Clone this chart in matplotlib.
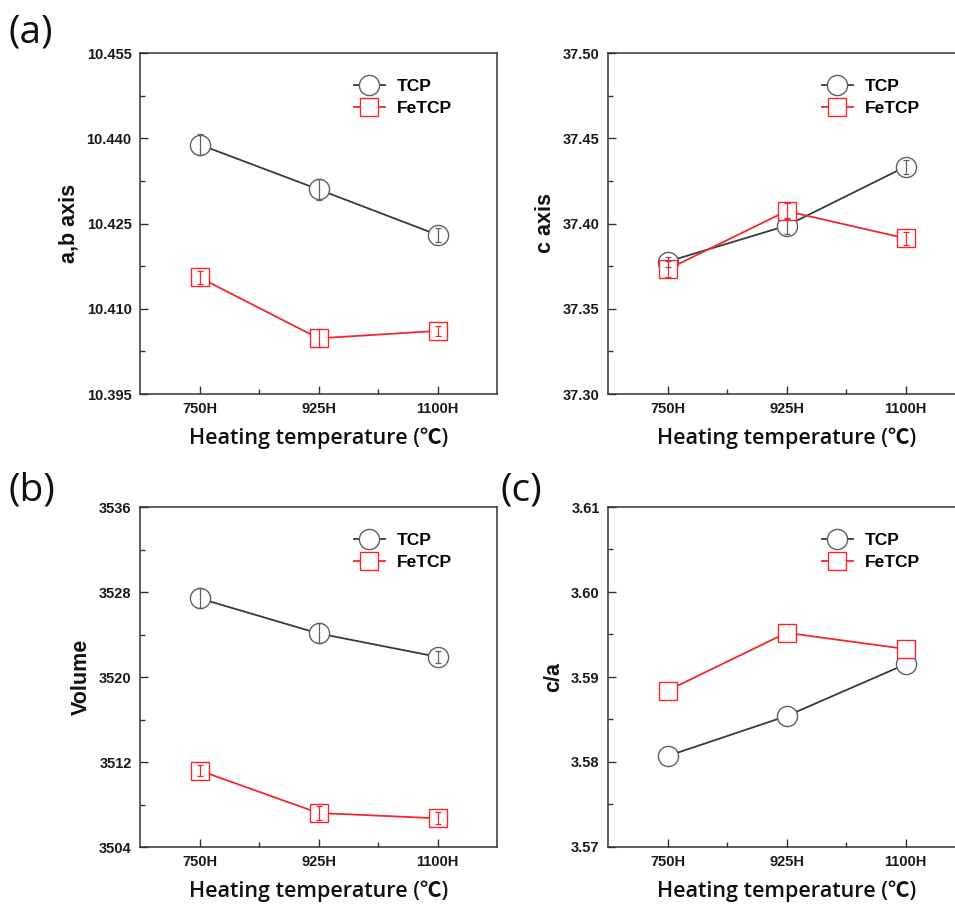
import matplotlib
matplotlib.use("Agg")
import matplotlib.pyplot as plt
from matplotlib.ticker import MultipleLocator, FixedLocator
import numpy as np

# ---------------- data ----------------
categories = ["750H", "925H", "1100H"]
series_names = ["TCP", "FeTCP"]

ab_tcp = [10.4389, 10.4310, 10.4230]
ab_fetcp = [10.4155, 10.4048, 10.4061]
ab_tcp_err = [0.0018, 0.0018, 0.0012]
ab_fetcp_err = [0.0011, 0.0016, 0.0009]

c_tcp = [37.3776, 37.3987, 37.4333]
c_fetcp = [37.3731, 37.4073, 37.3913]
c_tcp_err = [0.0030, 0.0047, 0.0040]
c_fetcp_err = [0.0047, 0.0047, 0.0040]

vol_tcp = [3527.4, 3524.1, 3521.9]
vol_fetcp = [3511.2, 3507.2, 3506.7]
vol_tcp_err = [0.94, 0.94, 0.56]
vol_fetcp_err = [0.56, 0.66, 0.56]

ca_tcp = [3.5807, 3.5854, 3.5915]
ca_fetcp = [3.5884, 3.5952, 3.5933]

ylabels = ["a,b axis", "c axis", "Volume", "c/a"]
xlabel = "Heating temperature (\u2103)"
panel_tags = ["(a)", "(b)", "(c)"]

# ---------------- style ----------------
plt.rcParams['font.family'] = ['Liberation Sans', 'DejaVu Sans']
GRAY_LINE = "#3a3a3a"
GRAY_MK = "#606060"
RED = "#f0282d"
SPINE = "#333333"

W, H = 955, 905
fig = plt.figure(figsize=(W / 100, H / 100), dpi=100)


def ax_rect(left_px, top_px, width_px, height_px):
    return [left_px / W, 1 - (top_px + height_px) / H, width_px / W, height_px / H]


panels = [
    dict(rect=ax_rect(140, 53, 357, 341), ylim=(10.395, 10.455), major=0.015,
         fmt="{:.3f}", tcp=ab_tcp, fe=ab_fetcp, tcp_err=ab_tcp_err, fe_err=ab_fetcp_err,
         ylabel=ylabels[0]),
    dict(rect=ax_rect(608, 53, 357, 341), ylim=(37.30, 37.50), major=0.05,
         fmt="{:.2f}", tcp=c_tcp, fe=c_fetcp, tcp_err=c_tcp_err, fe_err=c_fetcp_err,
         ylabel=ylabels[1]),
    dict(rect=ax_rect(140, 507, 357, 340), ylim=(3504, 3536), major=8,
         fmt="{:.0f}", tcp=vol_tcp, fe=vol_fetcp, tcp_err=vol_tcp_err, fe_err=vol_fetcp_err,
         ylabel=ylabels[2]),
    dict(rect=ax_rect(608, 507, 357, 340), ylim=(3.57, 3.61), major=0.01,
         fmt="{:.2f}", tcp=ca_tcp, fe=ca_fetcp, tcp_err=None, fe_err=None,
         ylabel=ylabels[3]),
]

x = np.arange(len(categories))

for p in panels:
    ax = fig.add_axes(p["rect"])
    # lines
    ax.plot(x, p["tcp"], color=GRAY_LINE, lw=1.3, zorder=2)
    ax.plot(x, p["fe"], color=RED, lw=1.3, zorder=2)
    # markers
    ax.plot(x, p["tcp"], linestyle="none", marker="o", ms=14.5, mfc="white",
            mec=GRAY_MK, mew=1.0, zorder=3)
    ax.plot(x, p["fe"], linestyle="none", marker="s", ms=13.5, mfc="white",
            mec=RED, mew=1.0, zorder=3)
    # error bars
    if p["tcp_err"] is not None:
        ax.errorbar(x, p["tcp"], yerr=p["tcp_err"], fmt="none", ecolor=GRAY_MK,
                    elinewidth=0.9, capsize=2.5, capthick=0.9, zorder=4)
        ax.errorbar(x, p["fe"], yerr=p["fe_err"], fmt="none", ecolor=RED,
                    elinewidth=0.9, capsize=2.5, capthick=0.9, zorder=4)
    # legend proxies
    h1, = ax.plot([], [], color=GRAY_LINE, lw=1.3, marker="o", ms=14.5, mfc="white",
                  mec=GRAY_MK, mew=1.0)
    h2, = ax.plot([], [], color=RED, lw=1.3, marker="s", ms=13.5, mfc="white",
                  mec=RED, mew=1.0)
    ax.legend([h1, h2], series_names, loc="upper left", bbox_to_anchor=(0.600, 0.925),
              frameon=False, handlelength=1.75, handletextpad=0.7,
              labelspacing=0.42, borderpad=0.0, borderaxespad=0.0,
              prop=dict(family=['Liberation Sans', 'DejaVu Sans'], weight='bold', size=12.5))

    ax.set_xlim(-0.5, 2.5)
    ax.set_ylim(*p["ylim"])
    ax.set_xticks(x)
    ax.set_xticklabels(categories)
    ax.xaxis.set_minor_locator(FixedLocator([0.5, 1.5]))
    ax.yaxis.set_minor_locator(MultipleLocator(p["major"] / 2))
    ticks = np.arange(p["ylim"][0], p["ylim"][1] + p["major"] / 2, p["major"])
    ax.set_yticks(ticks)
    ax.set_yticklabels([p["fmt"].format(t) for t in ticks])

    ax.tick_params(which="major", direction="in", length=6, width=1.0, color=SPINE,
                   labelsize=10.5, pad=6, top=False, right=False)
    ax.tick_params(which="minor", direction="in", length=3.5, width=1.0, color=SPINE,
                   top=False, right=False)
    for lab in ax.get_xticklabels() + ax.get_yticklabels():
        lab.set_fontweight("bold")
        lab.set_color("#1a1a1a")
    for s in ax.spines.values():
        s.set_linewidth(1.1)
        s.set_color(SPINE)

    ax.set_ylabel(p["ylabel"], fontsize=15.5, fontweight="bold", labelpad=5, color="#111111")
    ax.set_xlabel(xlabel, fontsize=15.5, fontweight="semibold", labelpad=8,
                  family=['Open Sans', 'Noto Sans CJK SC', 'DejaVu Sans'], color="#111111")

# panel tags
tag_font = dict(family=['Open Sans', 'DejaVu Sans'], size=28, color="#111111")
fig.text(8 / W, 1 - 32 / H, panel_tags[0], ha="left", va="center", **tag_font)
fig.text(8 / W, 1 - 490 / H, panel_tags[1], ha="left", va="center", **tag_font)
fig.text(501 / W, 1 - 490 / H, panel_tags[2], ha="left", va="center", **tag_font)

fig.savefig("out.png", dpi=100)
